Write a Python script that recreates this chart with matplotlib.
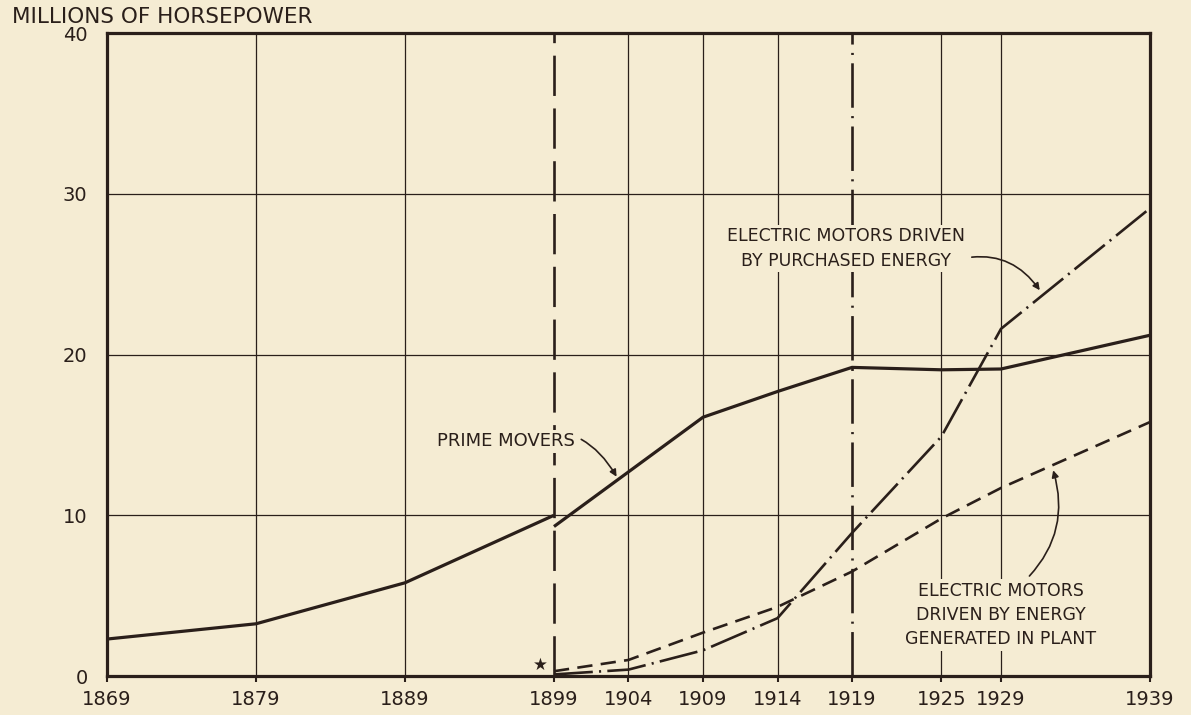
import matplotlib
matplotlib.use("Agg")
import matplotlib.pyplot as plt

# data (millions of horsepower)
years_old = [1869, 1879, 1889, 1899]
prime_old = [2.3, 3.25, 5.8, 10.0]

years_new = [1899, 1904, 1909, 1914, 1919, 1925, 1929, 1939]
prime_new = [9.3, 12.7, 16.1, 17.7, 19.2, 19.05, 19.1, 21.2]
purchased = [0.1, 0.4, 1.6, 3.6, 8.9, 14.9, 21.6, 29.1]
in_plant = [0.3, 1.0, 2.7, 4.3, 6.5, 9.8, 11.7, 15.8]

x_ticks = [1869, 1879, 1889, 1899, 1904, 1909, 1914, 1919, 1925, 1929, 1939]
x_grid = [1879, 1889, 1904, 1909, 1914, 1925, 1929]
y_ticks = [0, 10, 20, 30, 40]
y_grid = [10, 20, 30]

BG = "#f5ecd3"
INK = "#2a1f1a"

plt.rcParams["lines.scale_dashes"] = False
plt.rcParams["font.family"] = ["DejaVu Sans"]

fig = plt.figure(figsize=(11.91, 7.15), dpi=100, facecolor=BG)
ax = fig.add_axes([0.0898, 0.0545, 0.8758, 0.8993])
ax.set_facecolor(BG)

for yr in x_grid:
    ax.axvline(yr, color=INK, lw=0.9, zorder=1)
for v in y_grid:
    ax.axhline(v, color=INK, lw=0.9, zorder=1)

# census-basis break markers
ax.axvline(1899, color=INK, lw=1.9, dashes=(29, 9), zorder=2)
ax.axvline(1919, color=INK, lw=1.9, dashes=(32, 6, 1.5, 6), zorder=2)

ax.plot(years_old, prime_old, color=INK, lw=2.3, zorder=4, solid_capstyle="butt")
ax.plot(years_new, prime_new, color=INK, lw=2.3, zorder=4, solid_capstyle="butt")
ax.plot(years_new, purchased, color=INK, lw=1.9, dashes=(28, 4.5, 1.5, 4.5), zorder=4)
ax.plot(years_new, in_plant, color=INK, lw=1.9, dashes=(11, 6), zorder=4)

ax.set_xlim(1869, 1939)
ax.set_ylim(0, 40)
ax.set_xticks(x_ticks)
ax.set_xticklabels([str(y) for y in x_ticks])
ax.set_yticks(y_ticks)
ax.tick_params(axis="x", length=4, width=1.5, color=INK, pad=6, labelsize=14, labelcolor=INK)
ax.tick_params(axis="y", length=0, pad=14, labelsize=14, labelcolor=INK)
for s in ax.spines.values():
    s.set_linewidth(2.3)
    s.set_color(INK)

fig.text(0.010, 0.976, "MILLIONS OF HORSEPOWER", fontsize=15.5, color=INK, va="center", ha="left")

box = dict(boxstyle="square,pad=0.15", fc=BG, ec="none")
arrow = dict(arrowstyle="-|>", color=INK, lw=1.2, mutation_scale=10, shrinkA=3, shrinkB=0)

ax.annotate("PRIME MOVERS", xy=(1903.2, 12.4), xytext=(1900.4, 14.6),
            ha="right", va="center", fontsize=13, color=INK, bbox=box, zorder=3,
            arrowprops=dict(arrow, connectionstyle="arc3,rad=-0.45"))

ax.annotate("ELECTRIC MOTORS DRIVEN\nBY PURCHASED ENERGY", xy=(1931.6, 24.0), xytext=(1918.6, 26.6),
            ha="center", va="center", fontsize=12.5, color=INK, bbox=box, zorder=3,
            linespacing=1.45,
            arrowprops=dict(arrow, connectionstyle="arc3,rad=-0.35", relpos=(0.96, 0.22)))

ax.annotate("ELECTRIC MOTORS\nDRIVEN BY ENERGY\nGENERATED IN PLANT", xy=(1932.5, 12.8), xytext=(1929.0, 3.8),
            ha="center", va="center", fontsize=12.5, color=INK, bbox=box, zorder=3,
            linespacing=1.45,
            arrowprops=dict(arrow, connectionstyle="arc3,rad=0.3", relpos=(0.62, 1.0)))

ax.text(1898.1, 0.7, "\u2605", fontsize=12, color=INK, ha="center", va="center", zorder=5)

fig.savefig("out.png", dpi=100, facecolor=BG)
